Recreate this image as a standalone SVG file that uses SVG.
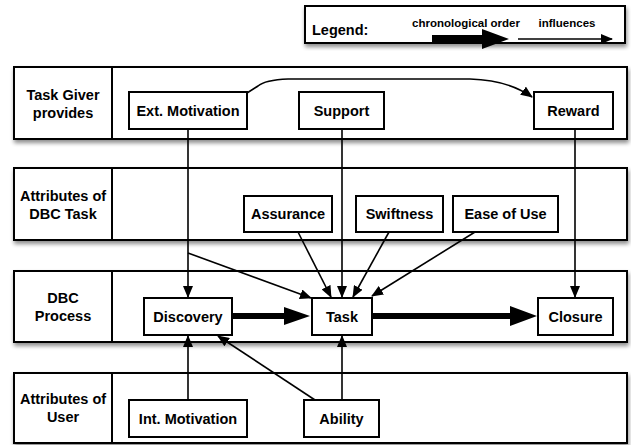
<svg xmlns="http://www.w3.org/2000/svg" width="631" height="445" viewBox="0 0 631 445">
<defs>
<filter id="sh" x="-5%" y="-10%" width="110%" height="130%">
<feGaussianBlur in="SourceAlpha" stdDeviation="2"/>
<feOffset dx="1" dy="3" result="b"/>
<feComponentTransfer><feFuncA type="linear" slope="0.45"/></feComponentTransfer>
<feMerge><feMergeNode/><feMergeNode in="SourceGraphic"/></feMerge>
</filter>
<marker id="ah" viewBox="0 0 12 10" refX="11" refY="5" markerWidth="12" markerHeight="10" markerUnits="userSpaceOnUse" orient="auto">
<path d="M0,0 L12,5 L0,10 Z" fill="#000"/>
</marker>
</defs>
<style>
.lane{fill:#fff;stroke:#000;stroke-width:2}
.box{fill:#fff;stroke:#000;stroke-width:2}
.t{font-family:"Liberation Sans",Arial,sans-serif;font-weight:bold;font-size:14.5px;text-anchor:middle;fill:#000}
.s{font-size:11.5px}
.c{fill:none;stroke:#000;stroke-width:1.6}
.thick{fill:#000;stroke:none}
</style>
<rect width="631" height="445" fill="#fff"/>

<g id="legend">
<rect x="305" y="6" width="320" height="37" class="lane" filter="url(#sh)"/>
<text x="312" y="35" class="t" style="text-anchor:start">Legend:</text>
<text x="466" y="27" class="t s">chronological order</text>
<text x="567" y="27" class="t s">influences</text>
<path d="M432,35 L482,35 L482,29 L509,39 L482,49 L482,42 L432,42 Z" class="thick"/>
<line x1="518" y1="39" x2="612" y2="39" class="c" marker-end="url(#ah)"/>
</g>

<g id="lane-taskgiver">
<rect x="14" y="67" width="613" height="72" class="lane" filter="url(#sh)"/>
<line x1="112" y1="67" x2="112" y2="139" stroke="#000" stroke-width="2"/>
<text x="63" y="100" class="t">Task Giver</text>
<text x="63" y="118" class="t">provides</text>
</g>
<g id="lane-task">
<rect x="14" y="168" width="613" height="72" class="lane" filter="url(#sh)"/>
<line x1="112" y1="168" x2="112" y2="240" stroke="#000" stroke-width="2"/>
<text x="63" y="201" class="t">Attributes of</text>
<text x="63" y="219" class="t">DBC Task</text>
</g>
<g id="lane-process">
<rect x="14" y="271" width="613" height="71" class="lane" filter="url(#sh)"/>
<line x1="112" y1="271" x2="112" y2="342" stroke="#000" stroke-width="2"/>
<text x="63" y="303" class="t">DBC</text>
<text x="63" y="321" class="t">Process</text>
</g>
<g id="lane-user">
<rect x="14" y="373" width="613" height="70" class="lane" filter="url(#sh)"/>
<line x1="112" y1="373" x2="112" y2="443" stroke="#000" stroke-width="2"/>
<text x="63" y="404" class="t">Attributes of</text>
<text x="63" y="422" class="t">User</text>
</g>

<g id="connectors">
<path d="M247,93 L258,86 Q265,80 288,79 L470,79 Q508,80 532,97" class="c" marker-end="url(#ah)"/>
<line x1="188" y1="129" x2="188" y2="297" class="c" marker-end="url(#ah)"/>
<line x1="188" y1="253" x2="311" y2="298" class="c" marker-end="url(#ah)"/>
<line x1="342" y1="129" x2="342" y2="297" class="c" marker-end="url(#ah)"/>
<line x1="575" y1="129" x2="575" y2="297" class="c" marker-end="url(#ah)"/>
<line x1="298" y1="232" x2="331" y2="297" class="c" marker-end="url(#ah)"/>
<line x1="389" y1="232" x2="353" y2="297" class="c" marker-end="url(#ah)"/>
<line x1="475" y1="232" x2="372" y2="296" class="c" marker-end="url(#ah)"/>
<line x1="188" y1="400" x2="188" y2="336" class="c" marker-end="url(#ah)"/>
<line x1="315" y1="400" x2="218" y2="336" class="c" marker-end="url(#ah)"/>
<line x1="342" y1="400" x2="342" y2="336" class="c" marker-end="url(#ah)"/>
<path d="M233,313 L284,313 L284,307 L310,316 L284,325 L284,319 L233,319 Z" class="thick"/>
<path d="M373,313 L510,313 L510,306 L537,316 L510,326 L510,319 L373,319 Z" class="thick"/>
</g>

<g id="ext-motivation"><rect x="129" y="92" width="118" height="37" class="box"/><text x="188" y="116" class="t">Ext. Motivation</text></g>
<g id="support"><rect x="299" y="92" width="85" height="37" class="box"/><text x="341.5" y="116" class="t">Support</text></g>
<g id="reward"><rect x="534" y="92" width="79" height="37" class="box"/><text x="573.5" y="116" class="t">Reward</text></g>
<g id="assurance"><rect x="244" y="196" width="88" height="36" class="box"/><text x="288" y="219" class="t">Assurance</text></g>
<g id="swiftness"><rect x="356" y="196" width="87" height="36" class="box"/><text x="399.5" y="219" class="t">Swiftness</text></g>
<g id="ease-of-use"><rect x="453" y="196" width="105" height="36" class="box"/><text x="505.5" y="219" class="t">Ease of Use</text></g>
<g id="discovery"><rect x="144" y="298" width="88" height="37" class="box"/><text x="188" y="322" class="t">Discovery</text></g>
<g id="task"><rect x="312" y="298" width="60" height="37" class="box"/><text x="342" y="322" class="t">Task</text></g>
<g id="closure"><rect x="538" y="298" width="75" height="37" class="box"/><text x="575.5" y="322" class="t">Closure</text></g>
<g id="int-motivation"><rect x="129" y="400" width="118" height="37" class="box"/><text x="188" y="424" class="t">Int. Motivation</text></g>
<g id="ability"><rect x="304" y="400" width="75" height="37" class="box"/><text x="341.5" y="424" class="t">Ability</text></g>
</svg>
